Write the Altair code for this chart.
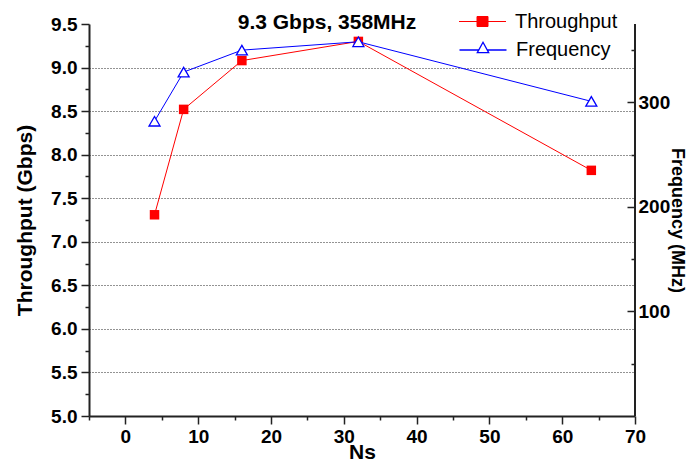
import altair as alt
import pandas as pd

# ---- data ----
ns = [4, 8, 16, 32, 64]
throughput = [7.31, 8.52, 9.08, 9.30, 7.82]
frequency = [282, 329, 350, 358, 301]
series_names = ["Throughput", "Frequency"]
title_text = "9.3 Gbps, 358MHz"

x_ticks = list(range(-5, 71, 5))
left_ticks = [5 + 0.25 * i for i in range(19)]
right_ticks = list(range(50, 351, 50))
x_edge = [70]

df = pd.DataFrame({
    "Ns": ns,
    "Throughput": throughput,
    "Frequency": frequency,
    "s1": series_names[0],
    "s2": series_names[1],
})
edge = pd.DataFrame({"Ns": x_edge})

FONT = "Liberation Sans"
RED = "#ff0000"
BLUE = "#0000ff"
AX = "#222222"

major_left = "abs(datum.value*2 - round(datum.value*2)) < 0.001"
major_x = "abs(datum.value/10 - round(datum.value/10)) < 0.001"

x_enc = alt.X(
    "Ns:Q",
    scale=alt.Scale(domain=[-5, 70], nice=False, zero=False),
    axis=alt.Axis(
        values=x_ticks, title="Ns",
        labelExpr=f"{major_x} ? datum.label : ''",
        tickSize={"condition": {"test": major_x, "value": 8}, "value": 4},
        labelPadding=3, titleY=42, titleBaseline="alphabetic",
        grid=False, labelOverlap=False, labelFlush=False,
    ),
)

y_left = alt.Y(
    "Throughput:Q",
    scale=alt.Scale(domain=[5, 9.5], nice=False, zero=False),
    axis=alt.Axis(
        values=left_ticks, format=".1f", title="Throughput (Gbps)",
        labelExpr=f"{major_left} ? datum.label : ''",
        tickSize={"condition": {"test": major_left, "value": 8}, "value": 4},
        grid=True, gridDash=[1, 2], gridColor="#000000", gridWidth=1,
        gridOpacity={"condition": {"test": f"{major_left} && datum.value > 5.01 && datum.value < 9.49", "value": 0.85}, "value": 0},
        labelPadding=4, titlePadding=15, labelOverlap=False, labelFlush=False,
    ),
)

y_right = alt.Y(
    "Frequency:Q",
    scale=alt.Scale(domain=[0, 375], nice=False, zero=False),
    axis=alt.Axis(
        orient="right", values=right_ticks, title="Frequency (MHz)",
        labelExpr="datum.value % 100 == 0 ? datum.label : ''",
        tickSize=8,
        tickDash={"condition": {"test": "datum.value % 100 != 0", "value": [0, 4, 4, 0]}, "value": [1, 0]},
        offset=-8, domain=False, grid=False, labelPadding=3, titlePadding=-2,
        titleFontSize=18, labelOverlap=False, labelFlush=False,
    ),
)

leg_common = dict(
    orient="none", title=None, symbolSize=400, labelFont=FONT, labelFontSize=20,
    labelFontWeight="normal", labelColor="black", labelOffset=22, padding=0,
)

base = alt.Chart(df)

t_line = base.mark_line(color=RED, strokeWidth=1).encode(x=x_enc, y=y_left)
t_pts = base.mark_point(shape="square", filled=True, size=90, opacity=1).encode(
    x=x_enc, y=y_left,
    color=alt.Color(
        "s1:N",
        scale=alt.Scale(domain=[series_names[0]], range=[RED]),
        legend=alt.Legend(
            symbolType="M-2.35,0H2.35M-0.55,-0.5H0.55V0.5H-0.55Z",
            symbolFillColor=RED, symbolStrokeColor=RED, symbolStrokeWidth=1,
            legendX=383, legendY=-13, **leg_common,
        ),
    ),
)
rule = alt.Chart(edge).mark_rule(color=AX, strokeWidth=2).encode(x=x_enc)

f_line = base.mark_line(color=BLUE, strokeWidth=1).encode(x=x_enc, y=y_right)
f_pts = base.mark_point(shape="triangle-up", size=121, fill="white", filled=True,
                        strokeWidth=1.3, opacity=1).encode(
    x=x_enc, y=y_right,
    stroke=alt.Stroke(
        "s2:N",
        scale=alt.Scale(domain=[series_names[1]], range=[BLUE]),
        legend=alt.Legend(
            symbolType="M-2.35,0H-0.42M0.42,0H2.35M0,-0.77L0.57,0.27H-0.57Z",
            symbolFillColor="white", symbolStrokeColor=BLUE, symbolStrokeWidth=1.3,
            legendX=383, legendY=15, **leg_common,
        ),
    ),
)

left = alt.layer(t_line, t_pts, rule)
right = alt.layer(f_line, f_pts)

chart = (
    alt.layer(left, right)
    .resolve_scale(y="independent")
    .properties(
        width=546, height=392,
        title=alt.TitleParams(
            text=title_text, font=FONT, fontSize=21, fontWeight="bold", color="black",
            anchor="middle", frame="group", dx=-35, dy=31, offset=-8, baseline="alphabetic",
        ),
        autosize=alt.AutoSizeParams(type="none"),
        padding={"left": 81, "top": 16, "right": 54, "bottom": 46},
    )
    .configure_view(stroke=None)
    .configure_axis(
        labelFont=FONT, labelFontSize=19, labelFontWeight="bold", labelColor="black",
        titleFont=FONT, titleFontSize=21, titleFontWeight="bold", titleColor="black",
        domainColor=AX, domainWidth=2, tickColor=AX, tickWidth=1.5,
    )
)

chart.save("out.html", embed_options={"renderer": "svg", "actions": False})
